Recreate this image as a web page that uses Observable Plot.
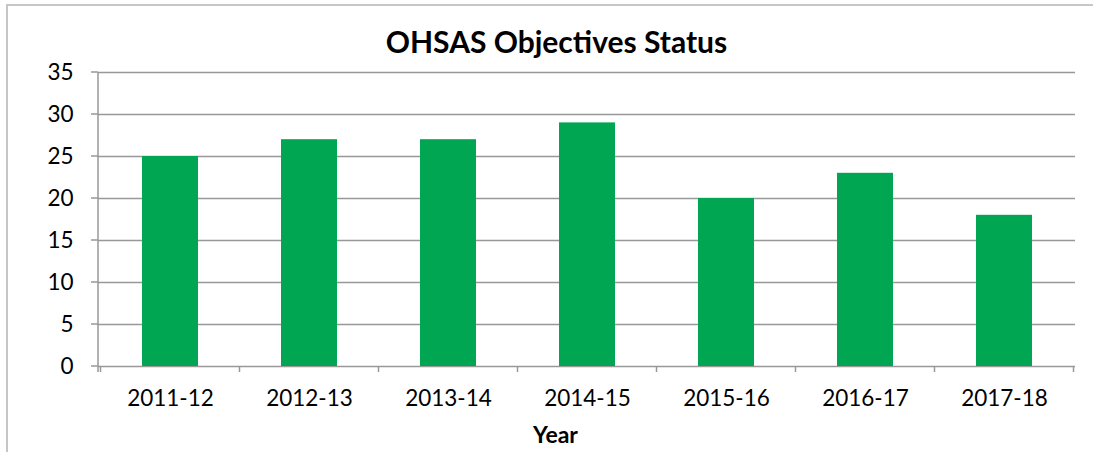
<!DOCTYPE html>
<html><head><meta charset="utf-8">
<script src="https://cdn.jsdelivr.net/npm/d3@7"></script>
<script src="https://cdn.jsdelivr.net/npm/@observablehq/plot@0.6"></script>
<style>
body{margin:0;background:#fff;}
#wrap{position:relative;width:1093px;height:452px;overflow:hidden;font-family:Lato,"Open Sans",sans-serif;color:#000;}
#frame{position:absolute;left:6px;top:4px;width:1200px;height:600px;border:2px solid #c6c6c6;}
#title{position:absolute;left:0;width:1113px;top:21px;text-align:center;font-weight:bold;font-size:30px;line-height:40px;white-space:nowrap;}
#xlabel{position:absolute;left:0;width:1111px;top:420px;text-align:center;font-weight:bold;font-size:23px;line-height:28px;}
#chart{position:absolute;left:0;top:0;}
</style></head>
<body>
<div id="wrap">
  <div id="frame"></div>
  <div id="chart"></div>
  <div id="title">OHSAS Objectives Status</div>
  <div id="xlabel">Year</div>
</div>
<script>
const years = ["2011-12", "2012-13", "2013-14", "2014-15", "2015-16", "2016-17", "2017-18"];
const values = [25, 27, 27, 29, 20, 23, 18];
const yTicks = [0, 5, 10, 15, 20, 25, 30, 35];

const data = years.map((year, i) => ({year, value: values[i]}));

function decorations(index, scales, vals, dimensions) {
  const {x, y} = scales;
  const {marginLeft} = dimensions;
  const bw = x.bandwidth ? x.bandwidth() : 0;
  const step = x.step ? x.step() : (dimensions.width - dimensions.marginLeft - dimensions.marginRight) / years.length;
  const y0 = y(0);
  const g = d3.create("svg:g").attr("stroke", "#989898").attr("stroke-width", 1.5).attr("fill", "none");
  g.append("line").attr("x1", marginLeft).attr("x2", marginLeft).attr("y1", y(yTicks[yTicks.length - 1])).attr("y2", y0 + 6);
  for (const t of yTicks) {
    g.append("line").attr("x1", marginLeft - 7).attr("x2", marginLeft).attr("y1", y(t)).attr("y2", y(t));
  }
  const bounds = years.map(c => x(c) + bw / 2 - step / 2);
  bounds.push(x(years[years.length - 1]) + bw / 2 + step / 2);
  for (const b of bounds) {
    g.append("line").attr("x1", b).attr("x2", b).attr("y1", y0).attr("y2", y0 + 6);
  }
  return g.node();
}

const chart = Plot.plot({
  width: 1093,
  height: 452,
  marginLeft: 98,
  marginRight: 18,
  marginTop: 72,
  marginBottom: 86,
  style: {fontFamily: "Lato, 'Open Sans', sans-serif", fontSize: "22.5px", color: "#000", background: "transparent"},
  x: {domain: years, paddingInner: 0.6, paddingOuter: 0.3, tickSize: 0, tickPadding: 24, label: null},
  y: {domain: [0, 35], ticks: yTicks, tickSize: 0, tickPadding: 25, label: null},
  marks: [
    Plot.ruleY(yTicks, {stroke: "#989898", strokeWidth: 1.5}),
    Plot.barY(data, {x: "year", y: "value", fill: "#00a651"}),
    decorations
  ]
});
document.getElementById("chart").appendChild(chart);
</script>
</body></html>
